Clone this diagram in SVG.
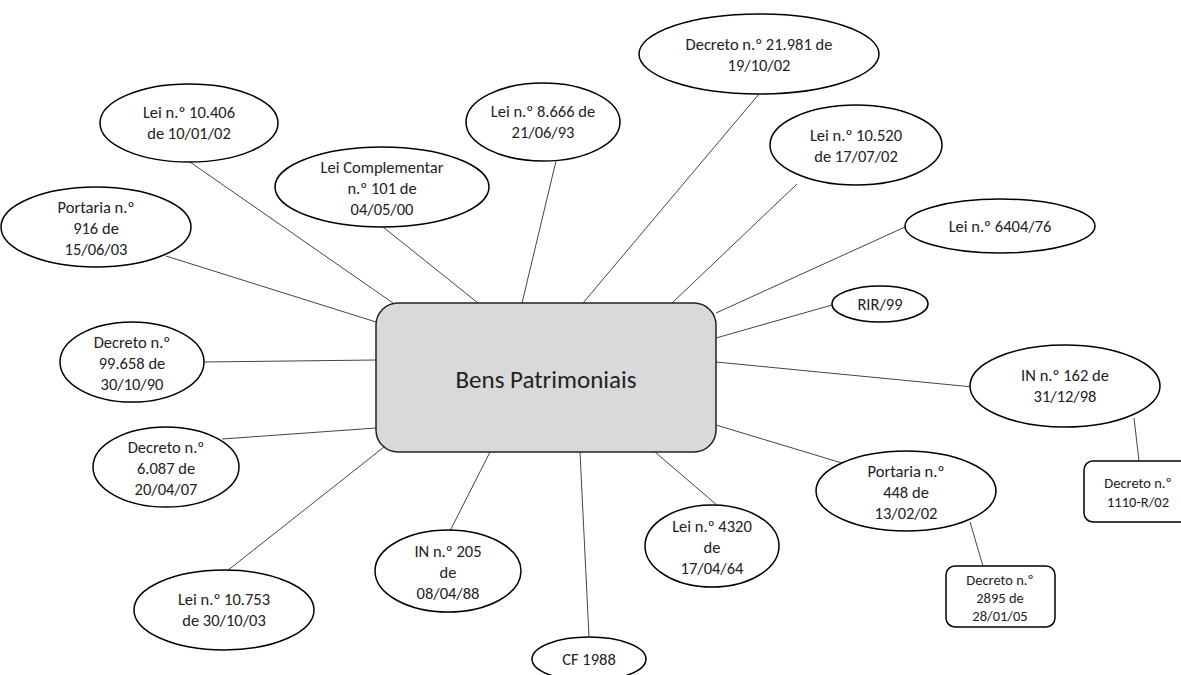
<svg xmlns="http://www.w3.org/2000/svg" width="1181" height="675" viewBox="0 0 1181 675">
<style>
.n{fill:#fff;stroke:#000;stroke-width:1.5}
.c{stroke:#444;stroke-width:1;fill:none}
text{font-family:Carlito,Lato,"Liberation Sans",sans-serif;font-size:16.5px;fill:#222;text-anchor:middle}
.s{font-size:14.5px}
.big{font-size:25px}
</style>
<rect width="1181" height="675" fill="#fff"/>
<g id="connectors">
<line class="c" x1="190" y1="162" x2="393" y2="303"/>
<line class="c" x1="166" y1="256" x2="376" y2="322"/>
<line class="c" x1="383" y1="227" x2="478" y2="303"/>
<line class="c" x1="556" y1="161" x2="522" y2="303"/>
<line class="c" x1="759" y1="94" x2="583" y2="303"/>
<line class="c" x1="797" y1="184" x2="672" y2="303"/>
<line class="c" x1="905" y1="227" x2="716" y2="313"/>
<line class="c" x1="832" y1="305" x2="716" y2="338"/>
<line class="c" x1="716" y1="362" x2="973" y2="387"/>
<line class="c" x1="1134" y1="418" x2="1139" y2="461"/>
<line class="c" x1="716" y1="425" x2="842" y2="463"/>
<line class="c" x1="970" y1="522" x2="983" y2="566"/>
<line class="c" x1="655" y1="452" x2="718" y2="506"/>
<line class="c" x1="580" y1="452" x2="589" y2="637"/>
<line class="c" x1="490" y1="452" x2="450" y2="531"/>
<line class="c" x1="384" y1="447" x2="227" y2="571"/>
<line class="c" x1="376" y1="428" x2="222" y2="439"/>
<line class="c" x1="204" y1="362" x2="376" y2="360"/>
</g>
<g id="center">
<rect x="376" y="303" width="340" height="149" rx="22" fill="#d9d9d9" stroke="#222" stroke-width="1.5"/>
<text class="big" x="546" y="388">Bens Patrimoniais</text>
</g>
<g id="n1"><ellipse class="n" cx="189" cy="123" rx="89" ry="39"/><text x="189" y="118">Lei n.º 10.406</text><text x="189" y="139">de 10/01/02</text></g>
<g id="n2"><ellipse class="n" cx="96" cy="227" rx="95" ry="40"/><text x="96" y="213">Portaria n.º</text><text x="96" y="234">916 de</text><text x="96" y="255">15/06/03</text></g>
<g id="n3"><ellipse class="n" cx="382" cy="187" rx="107" ry="40"/><text x="382" y="173">Lei Complementar</text><text x="382" y="194">n.º 101 de</text><text x="382" y="215">04/05/00</text></g>
<g id="n4"><ellipse class="n" cx="543" cy="122" rx="77" ry="39"/><text x="543" y="117">Lei n.º 8.666 de</text><text x="543" y="138">21/06/93</text></g>
<g id="n5"><ellipse class="n" cx="759" cy="54" rx="120" ry="40"/><text x="759" y="50">Decreto n.º 21.981 de</text><text x="759" y="71">19/10/02</text></g>
<g id="n6"><ellipse class="n" cx="856" cy="145" rx="86" ry="40"/><text x="856" y="141">Lei n.º 10.520</text><text x="856" y="162">de 17/07/02</text></g>
<g id="n7"><ellipse class="n" cx="1000" cy="226" rx="95" ry="27"/><text x="1000" y="232">Lei n.º 6404/76</text></g>
<g id="n8"><ellipse class="n" cx="880" cy="304" rx="48" ry="18"/><text x="880" y="310">RIR/99</text></g>
<g id="n9"><ellipse class="n" cx="1065" cy="386" rx="95" ry="41"/><text x="1065" y="381">IN n.º 162 de</text><text x="1065" y="402">31/12/98</text></g>
<g id="n10"><rect class="n" x="1084" y="461" width="110" height="61" rx="9"/><text class="s" x="1138" y="488">Decreto n.º</text><text class="s" x="1138" y="507">1110-R/02</text></g>
<g id="n11"><ellipse class="n" cx="906" cy="491" rx="90" ry="40"/><text x="906" y="477">Portaria n.º</text><text x="906" y="498">448 de</text><text x="906" y="519">13/02/02</text></g>
<g id="n12"><rect class="n" x="946" y="566" width="109" height="61" rx="9"/><text class="s" x="1000" y="585">Decreto n.º</text><text class="s" x="1000" y="603">2895 de</text><text class="s" x="1000" y="621">28/01/05</text></g>
<g id="n13"><ellipse class="n" cx="712" cy="546" rx="67" ry="41"/><text x="712" y="532">Lei n.º 4320</text><text x="712" y="553">de</text><text x="712" y="574">17/04/64</text></g>
<g id="n14"><ellipse class="n" cx="589" cy="659" rx="57" ry="22"/><text x="589" y="665">CF 1988</text></g>
<g id="n15"><ellipse class="n" cx="448" cy="571" rx="73" ry="41"/><text x="448" y="557">IN n.º 205</text><text x="448" y="578">de</text><text x="448" y="599">08/04/88</text></g>
<g id="n16"><ellipse class="n" cx="224" cy="610" rx="90" ry="40"/><text x="224" y="605">Lei n.º 10.753</text><text x="224" y="626">de 30/10/03</text></g>
<g id="n17"><ellipse class="n" cx="166" cy="467" rx="73" ry="40"/><text x="166" y="453">Decreto n.º</text><text x="166" y="474">6.087 de</text><text x="166" y="495">20/04/07</text></g>
<g id="n18"><ellipse class="n" cx="132" cy="362" rx="72" ry="40"/><text x="132" y="348">Decreto n.º</text><text x="132" y="369">99.658 de</text><text x="132" y="390">30/10/90</text></g>
</svg>
